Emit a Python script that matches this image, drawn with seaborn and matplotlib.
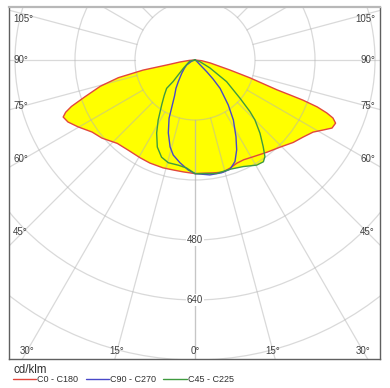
import numpy as np
import pandas as pd
import matplotlib.pyplot as plt
from matplotlib.lines import Line2D
from matplotlib.patches import Circle
import seaborn as sns

# ============================
# Photometric data (cd/klm)
# gamma = angle from nadir in degrees, listed from nadir outwards
# ============================
c0_left_gamma = [0, 6, 11, 16.5, 23.6, 29.3, 36, 43, 50, 55, 60.2, 64, 66.6, 68, 69.4, 71.5, 74.5, 77, 79, 80, 82.5, 86, 90]
c0_left_cd = [303, 300, 299, 300, 300, 299, 299, 304, 324, 335, 359, 377, 383, 372, 352, 310, 262, 210, 141, 76, 40, 15, 0]
c0_right_gamma = [0, 5, 9, 14, 18, 22, 26, 31, 38, 44, 50, 54.5, 58.6, 61.3, 63.6, 65.8, 67.2, 68.1, 69, 69.6, 69.8, 70, 72, 74, 79, 84, 90]
c0_right_cd = [303, 303, 305, 308, 303, 297, 296, 301, 312, 324, 342, 354, 369, 389, 408, 411, 399, 379, 349, 307, 270, 233, 154, 97, 41, 18, 0]

c90_left_gamma = [0, 3.5, 8.3, 12.9, 16, 20.1, 24, 29.7, 33.9, 37.6, 45, 52, 59, 70, 90]
c90_left_cd = [303, 294, 277, 260, 241, 207, 170, 110, 91, 73, 50, 36, 26, 10, 0]
c90_right_gamma = [0, 7.4, 13.3, 17.8, 21.5, 24.9, 28.1, 32.6, 36.5, 41.5, 43.5, 45, 47, 55, 90]
c90_right_cd = [303, 309, 309, 306, 291, 264, 232, 190, 149, 101, 70, 44, 15, 5, 0]

c45_left_gamma = [0, 4.4, 9, 14.6, 19, 23.4, 27.7, 31.5, 36.9, 41, 45, 45.5, 54.6, 79, 90]
c45_left_cd = [303, 289, 284, 283, 274, 253, 220, 188, 147, 125, 107, 82, 38, 14, 0]
c45_right_gamma = [0, 10.8, 17.8, 24.4, 30.4, 33.9, 35.9, 38.2, 41.6, 45, 46.8, 49.6, 55.6, 62, 71, 90]
c45_right_cd = [303, 308, 306, 312, 325, 327, 318, 294, 261, 226, 201, 158, 102, 45, 14, 0]

planes = ["C0 - C180", "C90 - C270", "C45 - C225"]
colors = {"C0 - C180": "#e2463c", "C90 - C270": "#4848c8", "C45 - C225": "#3f9a3f"}

ring_values = [160, 320, 480, 640, 800, 960, 1120]
ring_labels = [480, 640]
side_angles = [45, 60, 75, 90, 105]
bottom_angles = [0, 15, 30]
unit_label = "cd/klm"


def to_xy(lg, li, rg, ri):
    # left half from the top down to nadir, then right half back up
    g = np.r_[np.array(lg)[::-1], np.array(rg)]
    i = np.r_[np.array(li)[::-1], np.array(ri)]
    side = np.r_[-np.ones(len(lg)), np.ones(len(rg))]
    rad = np.deg2rad(g)
    return side * i * np.sin(rad), -i * np.cos(rad)


curves = {
    "C0 - C180": to_xy(c0_left_gamma, c0_left_cd, c0_right_gamma, c0_right_cd),
    "C90 - C270": to_xy(c90_left_gamma, c90_left_cd, c90_right_gamma, c90_right_cd),
    "C45 - C225": to_xy(c45_left_gamma, c45_left_cd, c45_right_gamma, c45_right_cd),
}
rows = []
for p in planes:
    x, y = curves[p]
    for k in range(len(x)):
        rows.append({"plane": p, "x": x[k], "y": y[k], "order": k})
df = pd.DataFrame(rows)

# ============================
# Figure
# ============================
sns.set_style("white")
plt.rcParams['font.family'] = ['Liberation Sans', 'DejaVu Sans']

fig = plt.figure(figsize=(3.9, 3.88), dpi=100)
ax = fig.add_axes([9 / 390, 1 - 359 / 388, 371 / 390, 352 / 388])
u = 160 / 60  # data units per pixel
xmin, xmax = -186 * u, 185 * u
ymin, ymax = -299 * u, 53 * u
ax.set_xlim(xmin, xmax)
ax.set_ylim(ymin, ymax)

# yellow fills
for p in planes:
    x, y = curves[p]
    ax.fill(x, y, color="#ffff00", lw=0, zorder=1)

# grid on top of the fill
grid_kw = dict(color="#b4b4b4", alpha=0.5, lw=0.9, zorder=2)
for r in ring_values:
    ax.add_patch(Circle((0, 0), r, fill=False, **grid_kw))
for a in range(0, 181, 15):
    rad = np.deg2rad(a)
    for s in (-1, 1):
        ax.plot([s * 160 * np.sin(rad), s * 1400 * np.sin(rad)],
                [-160 * np.cos(rad), -1400 * np.cos(rad)], **grid_kw)

# the curves
sns.lineplot(data=df, x="x", y="y", hue="plane", palette=colors, sort=False,
             estimator=None, units="plane", lw=1.0, legend=False, ax=ax, zorder=3)
ax.set_xlabel("")
ax.set_ylabel("")
ax.set_xticks([])
ax.set_yticks([])

# ring labels
for r in ring_labels:
    ax.text(0, -r, str(r), ha="center", va="center", fontsize=7, color="#404040",
            bbox=dict(facecolor="white", edgecolor="none", pad=0.6), zorder=4)

# angle labels
lab_kw = dict(fontsize=7, color="#404040", zorder=4)
for a in side_angles:
    rad = np.deg2rad(a)
    xi = xmin + 14 * u
    t = -xi / np.sin(rad)
    yl = min(-t * np.cos(rad), ymax - 12 * u)
    ax.text(xmin + 4 * u, yl, f"{a}°", ha="left", va="center", **lab_kw)
    ax.text(xmax - 5 * u, yl, f"{a}°", ha="right", va="center", **lab_kw)
for a in bottom_angles:
    rad = np.deg2rad(a)
    yi = ymin + 8 * u
    t = -yi / np.cos(rad)
    xl = min(t * np.sin(rad), -xmin - 13 * u)
    ax.text(-xl, yi, f"{a}°", ha="center", va="center", **lab_kw)
    if a:
        ax.text(xl, yi, f"{a}°", ha="center", va="center", **lab_kw)

for side in ["left", "right", "bottom"]:
    ax.spines[side].set_color("#606060")
    ax.spines[side].set_linewidth(1.0)
ax.spines["top"].set_color("#b8b8b8")
ax.spines["top"].set_linewidth(1.6)

# legend
fig.text(13 / 390, 1 - 370 / 388, unit_label, ha="left", va="center", fontsize=8.3, color="#303030")
handles = [Line2D([], [], color=colors[p], lw=1.0) for p in planes]
fig.legend(handles, planes, loc="center left", bbox_to_anchor=(13 / 390, 1 - 380 / 388), ncol=3,
           frameon=False, fontsize=6.5, handlelength=2.6, handletextpad=0.1,
           columnspacing=0.8, borderaxespad=0, borderpad=0, labelcolor="#303030")

fig.savefig("out.png", dpi=100)
